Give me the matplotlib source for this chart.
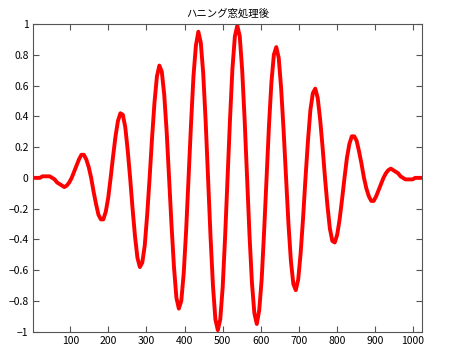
import numpy as np
import matplotlib
matplotlib.use("Agg")
import matplotlib.pyplot as plt

plt.rcParams['font.family'] = ['Noto Sans CJK JP', 'DejaVu Sans']

# sample positions (every 6.4 samples, 1..1025)
sample_x = np.arange(161) * 6.4 + 1

# windowed signal (hundredths)
signal_pct = [
    0, 0, 0, 0, 1, 1, 1, 1, 0, -1, -3, -4, -5, -6, -5, -3,
    0, 4, 8, 12, 15, 15, 12, 7, 0, -9, -17, -24, -27, -27, -22, -13,
    0, 14, 27, 37, 42, 41, 33, 18, 0, -20, -38, -52, -58, -55, -44, -24,
    0, 26, 49, 66, 73, 69, 54, 30, 0, -31, -58, -78, -85, -80, -62, -34,
    0, 35, 66, 86, 95, 88, 68, 37, 0, -38, -70, -92, -99, -92, -71, -38,
    0, 38, 71, 92, 99, 92, 70, 38, 0, -37, -68, -88, -95, -86, -66, -35,
    0, 34, 62, 80, 85, 78, 58, 31, 0, -30, -54, -69, -73, -66, -49, -26,
    0, 24, 44, 55, 58, 52, 38, 20, 0, -18, -33, -41, -42, -37, -27, -14,
    0, 13, 22, 27, 27, 24, 17, 9, 0, -7, -12, -15, -15, -12, -8, -4,
    0, 3, 5, 6, 5, 4, 3, 1, 0, -1, -1, -1, -1, 0, 0, 0, 0,
]

x_ticks = list(range(100, 1001, 100))
y_ticks = [-1, -0.8, -0.6, -0.4, -0.2, 0, 0.2, 0.4, 0.6, 0.8, 1]
y_tick_labels = ["−1", "−0.8", "−0.6", "−0.4", "−0.2", "0", "0.2", "0.4", "0.6", "0.8", "1"]

values = np.array(signal_pct) / 100

fig = plt.figure(figsize=(4.56, 3.6), dpi=100)
ax = fig.add_axes([0.0717, 0.0786, 0.8547, 0.8547])
ax.plot(sample_x, values, color="#ff0000", linewidth=2.8)
ax.set_xlim(1, 1025)
ax.set_ylim(-1, 1)
ax.set_xticks(x_ticks)
ax.set_yticks(y_ticks)
ax.set_yticklabels(y_tick_labels)
ax.tick_params(direction="in", top=True, right=True, length=4, width=0.8,
               color="#555555", labelsize=7.5, pad=3)
for s in ax.spines.values():
    s.set_color("#555555")
ax.set_title("ハニング窓処理後", fontsize=7.5, pad=5)

fig.savefig("out.png", dpi=100)
